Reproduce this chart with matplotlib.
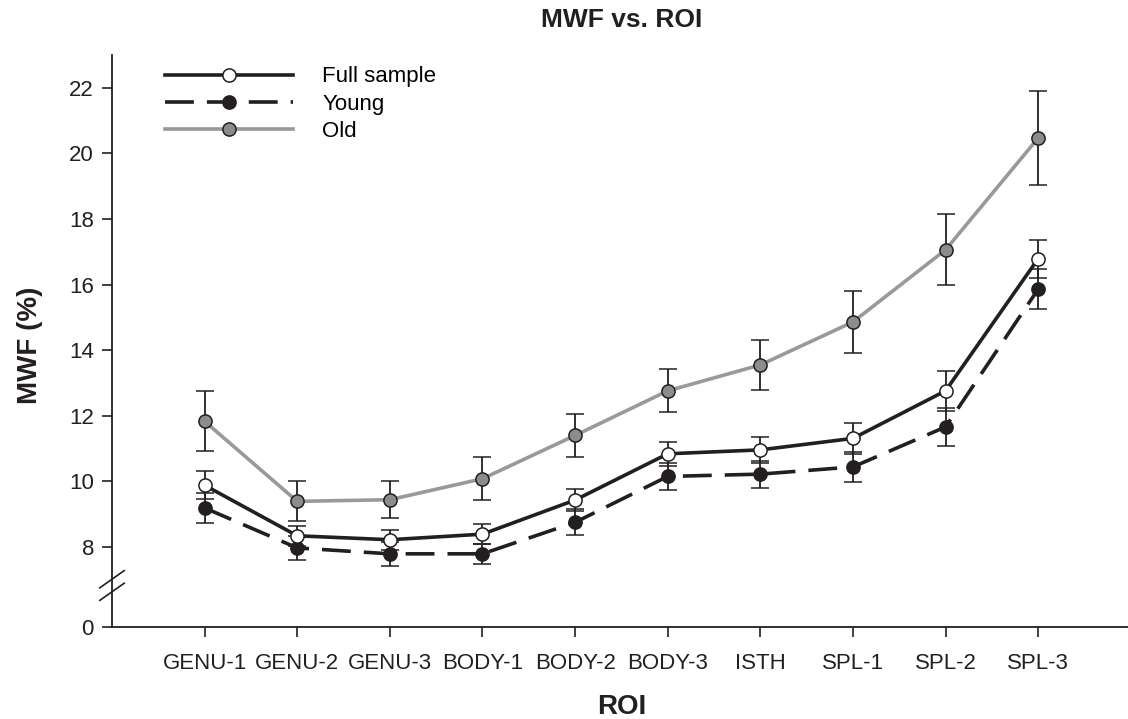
import numpy as np
import matplotlib.pyplot as plt
from matplotlib.lines import Line2D

# données
roi = ['GENU-1', 'GENU-2', 'GENU-3', 'BODY-1', 'BODY-2', 'BODY-3', 'ISTH', 'SPL-1', 'SPL-2', 'SPL-3']

full_mean = [9.88, 8.34, 8.22, 8.39, 9.43, 10.84, 10.96, 11.31, 12.76, 16.79]
full_err = [0.43, 0.30, 0.30, 0.30, 0.34, 0.37, 0.39, 0.47, 0.61, 0.58]

young_mean = [9.19, 7.97, 7.79, 7.79, 8.75, 10.15, 10.22, 10.44, 11.66, 15.86]
young_err = [0.46, 0.36, 0.36, 0.30, 0.40, 0.41, 0.41, 0.47, 0.57, 0.60]

old_mean = [11.83, 9.39, 9.44, 10.08, 11.40, 12.76, 13.55, 14.86, 17.06, 20.47]
old_err = [0.91, 0.61, 0.56, 0.65, 0.66, 0.66, 0.77, 0.95, 1.08, 1.42]

y_ticks = [0, 8, 10, 12, 14, 16, 18, 20, 22]

BREAK = 7.0
K = 0.2057   # compression sous la coupure


def fwd(y):
    y = np.asarray(y, dtype=float)
    return np.where(y >= BREAK, y, BREAK - (BREAK - y) * K)


def inv(t):
    t = np.asarray(t, dtype=float)
    return np.where(t >= BREAK, t, BREAK - (BREAK - t) / K)


plt.rcParams['font.family'] = ['Liberation Sans', 'DejaVu Sans']

fig = plt.figure(figsize=(11.28, 7.19), dpi=100)
ax = fig.add_axes([0.0993, 0.128, 0.9007, 0.7955])

x = np.arange(len(roi))
black = '#231f20'
gray = '#999999'

eb = dict(ecolor=black, elinewidth=1.3, capsize=6.5, capthick=1.3)
st_full = dict(color=black, lw=2.6, marker='o', ms=9.5, mfc='white', mec=black, mew=1.1)
st_young = dict(color=black, lw=2.6, ls=(0, (8, 3.6)), marker='o', ms=9.5, mfc=black, mec=black, mew=1.1)
st_old = dict(color=gray, lw=2.6, marker='o', ms=9.5, mfc='#8c8c8c', mec=black, mew=1.1)

ax.errorbar(x, old_mean, yerr=old_err, zorder=2, **st_old, **eb)
ax.errorbar(x, young_mean, yerr=young_err, zorder=3, **st_young, **eb)
ax.errorbar(x, full_mean, yerr=full_err, zorder=4, **st_full, **eb)

ax.set_yscale('function', functions=(fwd, inv))
ax.set_ylim(0, 23.0)
ax.set_xlim(-1.0, 9.97)
ax.set_yticks(y_ticks)
ax.set_yticklabels([str(v) for v in y_ticks])
ax.set_xticks(x)
ax.set_xticklabels(roi)
ax.minorticks_off()

for s in ['top', 'right']:
    ax.spines[s].set_visible(False)
for s in ['left', 'bottom']:
    ax.spines[s].set_linewidth(1.3)
    ax.spines[s].set_color(black)
ax.tick_params(axis='both', direction='out', length=7, width=1.2, color=black,
               labelsize=16, labelcolor=black, pad=6)
ax.tick_params(axis='x', pad=12)

# marque de coupure de l'axe
for yc in [0.0835, 0.0615]:
    ax.plot([-0.012, 0.012], [yc - 0.015, yc + 0.015], transform=ax.transAxes,
            color=black, lw=1.2, clip_on=False)

fig.text(622 / 1128, 1 - 20 / 719, 'MWF vs. ROI', fontsize=19, fontweight='bold',
         color=black, ha='center', va='center')
fig.text(622 / 1128, 1 - 707 / 719, 'ROI', fontsize=20, fontweight='bold',
         color=black, ha='center', va='center')
fig.text(30 / 1128, 1 - 345 / 719, 'MWF (%)', fontsize=20, fontweight='bold',
         color=black, ha='center', va='center', rotation=90)

handles = [Line2D([], [], **st_full), Line2D([], [], **st_young), Line2D([], [], **st_old)]
ax.legend(handles, ['Full sample', 'Young', 'Old'], loc='upper left',
          bbox_to_anchor=(0.032, 1.015), frameon=False, fontsize=16,
          handlelength=5.8, handletextpad=1.3, labelspacing=0.28)

fig.savefig('out.png', dpi=100)
